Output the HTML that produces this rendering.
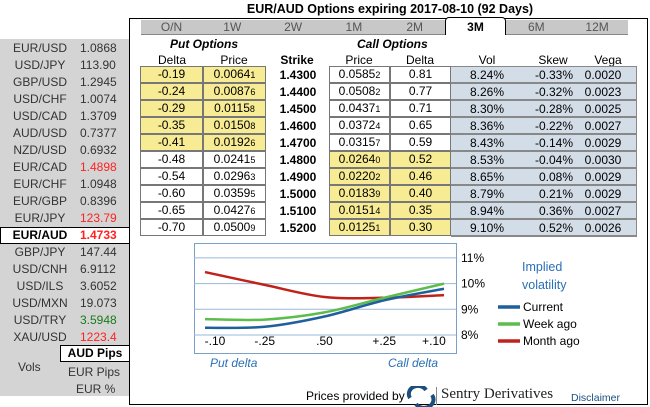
<!DOCTYPE html>
<html><head><meta charset="utf-8"><style>
*{box-sizing:border-box}
body{margin:0;width:650px;height:407px;background:#fff;font-family:"Liberation Sans",sans-serif;font-size:12px;position:relative;overflow:hidden;color:#000}
.a{position:absolute;white-space:nowrap}
.c{position:absolute;border:1px solid #777;text-align:center;line-height:15px;height:17px}
.y{background:#f7eb93}.b{background:#d3dde8;border-color:#888}
small{font-size:9px}
</style></head><body>
<div class="a" style="left:0;width:780px;text-align:center;top:2px;font-weight:bold;font-size:12.5px">EUR/AUD Options expiring 2017-08-10 (92 Days)</div>
<div class="a" style="left:0;top:39px;width:129px;height:357px;background:#d4d4d4"></div>
<div id="fx"></div>
<div class="a" style="left:129px;top:18px;width:519px;height:387px;border:1px solid #000"></div>
<div class="a" style="left:141px;top:20px;width:487px;height:15px;background:#c8c8c8;border-bottom:1px solid #888"></div>
<div id="tabs"></div>
<div class="a" style="left:170px;top:37px;font-weight:bold;font-style:italic">Put Options</div>
<div class="a" style="left:357px;top:37px;font-weight:bold;font-style:italic">Call Options</div>
<div id="tbl"></div>
<svg class="a" style="left:0;top:0" width="650" height="407" id="ch"></svg>
<div class="a" style="left:306px;top:389px;font-size:12px">Prices provided by</div>
<svg class="a" style="left:406px;top:386px" width="30" height="21"><path d="M4 12 A9 8 0 0 1 20 4" stroke="#1d4f7c" stroke-width="4" fill="none"/><path d="M26 9 A9 8 0 0 1 10 18" stroke="#1d4f7c" stroke-width="4" fill="none"/></svg>
<div class="a" style="left:436px;top:387px;width:1px;height:18px;background:#888"></div>
<div class="a" style="left:441px;top:386px;font-family:'Liberation Serif',serif;font-size:15px;color:#222">Sentry Derivatives</div>
<div class="a" style="left:571px;top:392px;font-size:10.5px;color:#1a4f85">Disclaimer</div>
<script>
const fxNames=["EUR/USD","USD/JPY","GBP/USD","USD/CHF","USD/CAD","AUD/USD","NZD/USD","EUR/CAD","EUR/CHF","EUR/GBP","EUR/JPY","EUR/AUD","GBP/JPY","USD/CNH","USD/ILS","USD/MXN","USD/TRY","XAU/USD"];
const fxVals=["1.0868","113.90","1.2945","1.0074","1.3709","0.7377","0.6932","1.4898","1.0948","0.8396","123.79","1.4733","147.44","6.9112","3.6052","19.073","3.5948","1223.4"];
const fxCol=["#333","#333","#333","#333","#333","#333","#333","#f22","#333","#333","#f22","#f22","#333","#333","#333","#333","#1a7a1a","#f22"];
let h='';
fxNames.forEach((n,i)=>{const t=40+i*17;const sel=i==11;
 if(sel)h+=`<div class="a" style="left:0;top:${t}px;width:130px;height:17px;background:#fff;border:1px solid #000"></div>`;
 h+=`<div class="a" style="left:0;width:80px;text-align:center;top:${t+1}px;color:${sel?'#000':'#333'};${sel?'font-weight:bold':''}">${n}</div><div class="a" style="left:80px;width:34px;text-align:center;top:${t+1}px;color:${fxCol[i]};${sel?'font-weight:bold':''}">${fxVals[i]}</div>`;});
h+=`<div class="a" style="left:60px;top:345px;width:70px;height:17px;background:#fff;border:1px solid #000;font-weight:bold;text-align:center;line-height:15px">AUD Pips</div>
<div class="a" style="left:18px;top:360px;color:#333">Vols</div>
<div class="a" style="left:68px;top:365px;color:#333">EUR Pips</div>
<div class="a" style="left:76px;top:382px;color:#333">EUR %</div>`;
document.getElementById('fx').innerHTML=h;
const tabs=["O/N","1W","2W","1M","2M","3M","6M","12M"];
h='';tabs.forEach((t,i)=>{const x=141+i*60.8;const s=t=="3M";
 h+=`<div class="a" style="left:${x}px;top:${s?17:20}px;width:61px;height:${s?18:15}px;text-align:center;line-height:${s?18:15}px;${s?'background:#fff;border:1px solid #000;border-bottom:none;border-radius:4px 4px 0 0;font-weight:bold;color:#000':'color:#555'}">${t}</div>`;});
document.getElementById('tabs').innerHTML=h;
const putD=["-0.19","-0.24","-0.29","-0.35","-0.41","-0.48","-0.54","-0.60","-0.65","-0.70"];
const putP=["0.0064|1","0.0087|6","0.0115|8","0.0150|8","0.0192|6","0.0241|5","0.0296|3","0.0359|5","0.0427|6","0.0500|9"];
const strikes=["1.4300","1.4400","1.4500","1.4600","1.4700","1.4800","1.4900","1.5000","1.5100","1.5200"];
const callP=["0.0585|2","0.0508|2","0.0437|1","0.0372|4","0.0315|7","0.0264|0","0.0220|2","0.0183|9","0.0151|4","0.0125|1"];
const callD=["0.81","0.77","0.71","0.65","0.59","0.52","0.46","0.40","0.35","0.30"];
const vols=["8.24%","8.26%","8.30%","8.36%","8.43%","8.53%","8.65%","8.79%","8.94%","9.10%"];
const skews=["-0.33%","-0.32%","-0.28%","-0.22%","-0.14%","-0.04%","0.08%","0.21%","0.36%","0.52%"];
const vegas=["0.0020","0.0023","0.0025","0.0027","0.0029","0.0030","0.0029","0.0029","0.0027","0.0026"];
const pp=s=>{const[a,b]=s.split('|');return a+'<small>'+b+'</small>'};
h='';
[["Delta",172],["Price",234],["Strike",297],["Price",359],["Delta",420],["Vol",487],["Skew",553],["Vega",608]].forEach(([t,x],i)=>h+=`<div class="a" style="left:${x-30}px;width:60px;text-align:center;top:53px;${i==2?'font-weight:bold':''}">${t}</div>`);
h+=`<div class="a" style="left:451px;top:66px;width:186px;height:171px;background:#d3dde8;border:1px solid #888"></div>`;
for(let i=0;i<10;i++){const t=66+i*17;const py=i<5,cy=i>=5;
 h+=`<div class="c ${py?'y':''}" style="left:140px;top:${t}px;width:63px">${putD[i]}</div>
 <div class="c ${py?'y':''}" style="left:203px;top:${t}px;width:63px">${pp(putP[i])}</div>
 <div class="a" style="left:270px;width:56px;text-align:center;top:${t+2}px;font-weight:bold">${strikes[i]}</div>
 <div class="c ${cy?'y':''}" style="left:329px;top:${t}px;width:61px">${pp(callP[i])}</div>
 <div class="c ${cy?'y':''}" style="left:390px;top:${t}px;width:61px">${callD[i]}</div>
 <div class="c b" style="left:451px;top:${t}px;width:186px;border-left:none"></div>
 <div class="a" style="left:457px;width:60px;text-align:center;top:${t+2}px">${vols[i]}</div>
 <div class="a" style="left:505px;width:68px;text-align:right;top:${t+2}px">${skews[i]}</div>
 <div class="a" style="left:578px;width:50px;text-align:center;top:${t+2}px">${vegas[i]}</div>`;}
document.getElementById('tbl').innerHTML=h;
// chart
const cats=["-.10","-.25",".50","+.25","+.10"];
const current=[8.28,8.32,8.72,9.35,9.8];
const weekAgo=[8.62,8.6,8.88,9.45,10.0];
const monthAgo=[10.45,9.95,9.48,9.45,9.55];
const yTicks=[8,9,10,11];
const X=i=>205+i*(444-205)/4, Y=v=>335-(v-8)*25.7;
const svg=document.getElementById('ch');const NS='http://www.w3.org/2000/svg';
function mk(tag,at,txt){const e=document.createElementNS(NS,tag);for(const k in at)e.setAttribute(k,at[k]);if(txt!=null)e.textContent=txt;svg.appendChild(e);return e;}
let e=mk('rect',{x:194.5,y:243.5,width:262,height:110,fill:'#fff',stroke:'#7aa0c8'});


yTicks.forEach(v=>{let g=mk('line',{x1:194,x2:456,y1:Y(v),y2:Y(v),stroke:'#9ab8d8'});


let t=mk('text',{x:461,y:Y(v)+4,'font-size':12,fill:'#000'},v+'%');

});
cats.forEach((c,i)=>{let t=mk('text',{x:X(i)+(i==0?10:i==4?-10:0),y:345,'font-size':12,'text-anchor':'middle'},c);

});
function path(vals){const P=vals.map((v,i)=>[X(i),Y(v)]);let d=`M${P[0][0]},${P[0][1]}`;
 for(let i=0;i<P.length-1;i++){const p0=P[Math.max(0,i-1)],p1=P[i],p2=P[i+1],p3=P[Math.min(P.length-1,i+2)];
  const c1=[p1[0]+(p2[0]-p0[0])/6,p1[1]+(p2[1]-p0[1])/6],c2=[p2[0]-(p3[0]-p1[0])/6,p2[1]-(p3[1]-p1[1])/6];
  d+=` C${c1[0]},${c1[1]} ${c2[0]},${c2[1]} ${p2[0]},${p2[1]}`;}return d;}
[[monthAgo,'#c0221a','month-ago-line'],[weekAgo,'#5cbd4c','week-ago-line'],[current,'#1f5f9e','current-line']].forEach(([v,c,n])=>{let p=mk('path',{d:path(v),stroke:c,'stroke-width':2.5,fill:'none'});

});
let t1=mk('text',{x:522,y:271,'font-size':12.5,fill:'#2a6fb8'},'Implied');


let t2=mk('text',{x:522,y:289,'font-size':12.5,fill:'#2a6fb8'},'volatility');


[['Current','#1f5f9e',307],['Week ago','#5cbd4c',324],['Month ago','#c0221a',341]].forEach(([n,c,y])=>{let l=mk('line',{x1:498,x2:520,y1:y,y2:y,stroke:c,'stroke-width':3.5});


let t=mk('text',{x:523,y:y+4,'font-size':12},n);

});
let pd=mk('text',{x:210,y:367,'font-size':12,fill:'#2a6fb8','font-style':'italic'},'Put delta');


let cd=mk('text',{x:388,y:367,'font-size':12,fill:'#2a6fb8','font-style':'italic'},'Call delta');


</script>
</body></html>
